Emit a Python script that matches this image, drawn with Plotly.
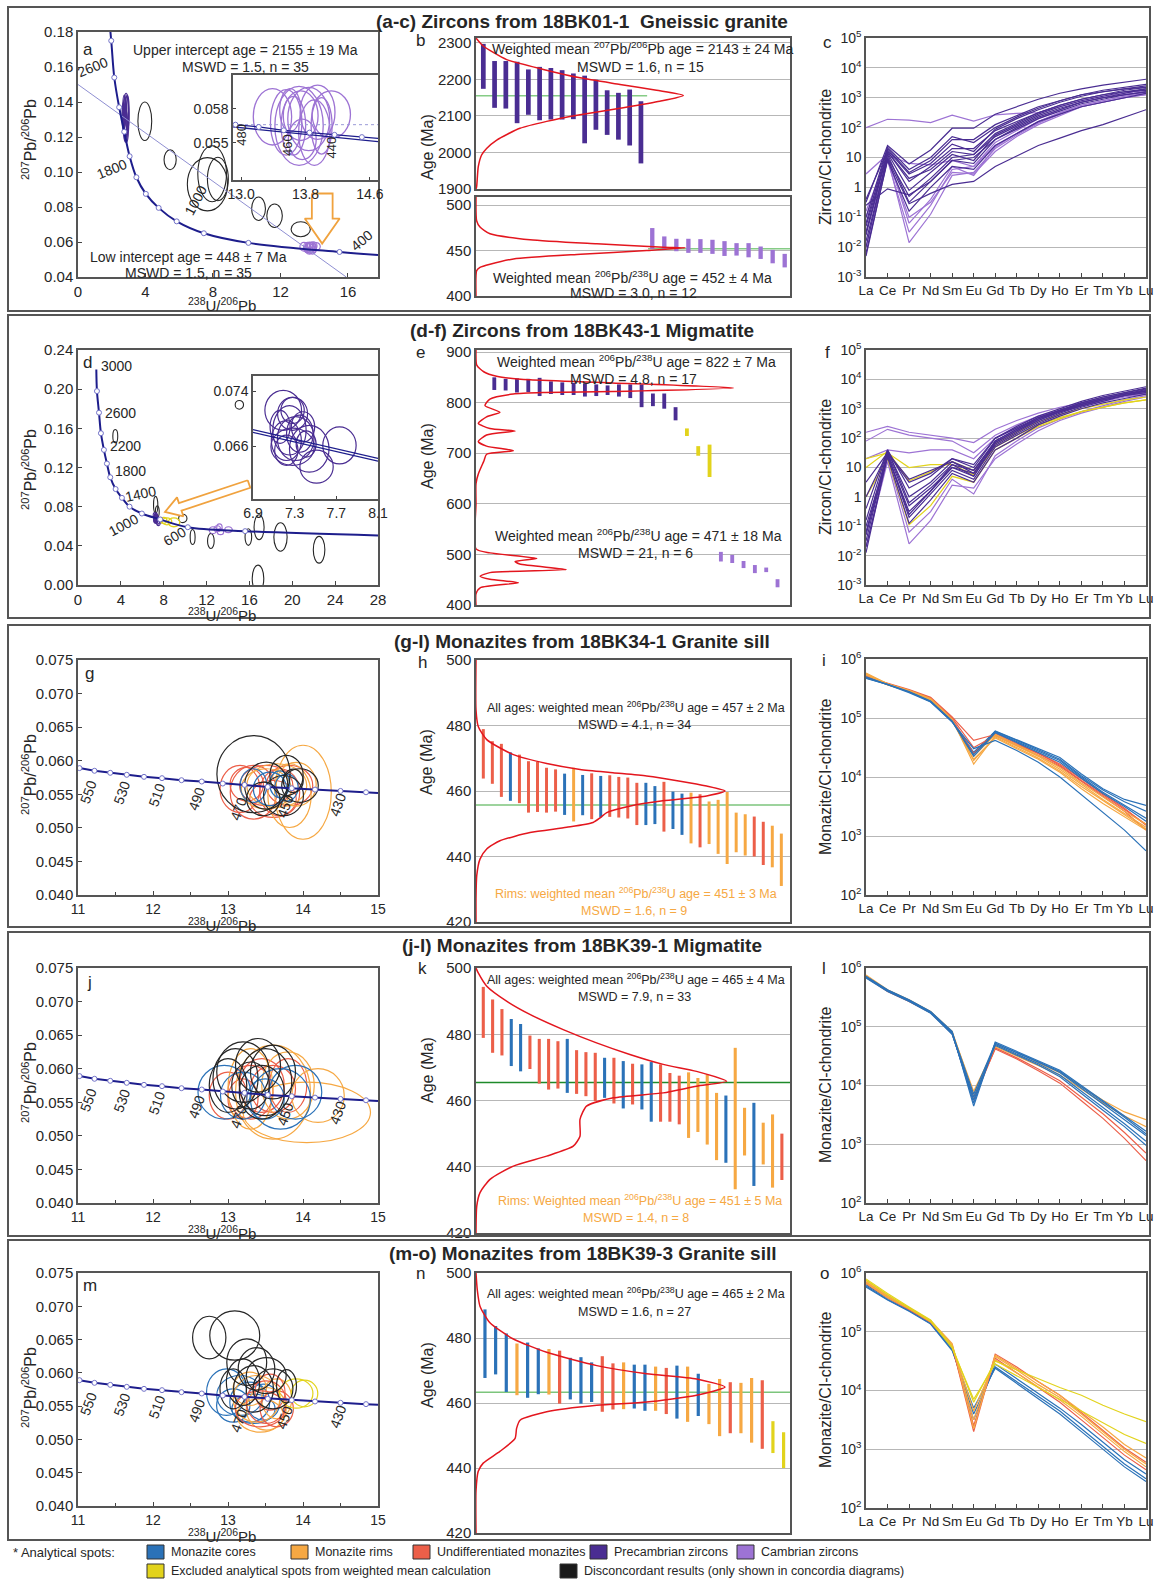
import plotly.graph_objects as go

W, H = 1157, 1581
FONT = "Arial, Liberation Sans, sans-serif"
TXT = "#262626"
FRAME = "#555555"
GRID = "#b7b7b7"

C_CORE = "#2b72b8"; C_RIM = "#f6a843"; C_UND = "#ec5f49"
C_PRE = "#4a2d92"; C_CAM = "#9d73d4"; C_EXC = "#e2d31c"; C_DIS = "#262626"
C_CONC = "#1d1d8c"; C_TICKPT = "#7272c8"; C_CURVE = "#e3161e"; C_ARROW = "#f0a23e"
COL = {"B": C_CORE, "O": C_RIM, "R": C_UND, "P": C_PRE, "C": C_CAM, "Y": C_EXC, "D": C_DIS}

# ======================= DATA =======================
ree = ["La", "Ce", "Pr", "Nd", "Sm", "Eu", "Gd", "Tb", "Dy", "Ho", "Er", "Tm", "Yb", "Lu"]

# --- concordia tick points (Tera-Wasserburg) ---
conc_a_age = [2600, 2400, 2200, 2000, 1800, 1600, 1400, 1200, 1000, 800, 600, 400]
conc_a_x = [1.97, 2.15, 2.44, 2.74, 3.06, 3.46, 4.02, 4.78, 5.85, 7.46, 10.1, 15.5]
conc_a_y = [0.175, 0.154, 0.137, 0.123, 0.109, 0.097, 0.0875, 0.0795, 0.0718, 0.065, 0.0595, 0.0543]
conc_a_end_x = [1.80, 17.78]
conc_a_end_y = [0.192, 0.0526]
discordia_a_x = [0.0, 15.9]
discordia_a_y = [0.150, 0.040]

conc_d_age = [2800, 2600, 2400, 2200, 2000, 1800, 1600, 1400, 1200, 1000, 800, 600, 400]
conc_d_x = [1.77, 1.96, 2.14, 2.42, 2.70, 3.01, 3.51, 4.10, 4.81, 5.96, 7.67, 10.25, 15.6]
conc_d_y = [0.198, 0.176, 0.155, 0.138, 0.124, 0.110, 0.098, 0.089, 0.080, 0.073, 0.067, 0.059, 0.055]
conc_d_end_x = [1.71, 28.0]
conc_d_end_y = [0.220, 0.0506]

conc_m_age = [560, 550, 540, 530, 520, 510, 500, 490, 480, 470, 460, 450, 440, 430, 420]
conc_m_x = [11.02, 11.22, 11.43, 11.65, 11.88, 12.12, 12.38, 12.65, 12.93, 13.22, 13.53, 13.85, 14.16, 14.50, 14.84]
conc_m_y = [0.0589, 0.0585, 0.0582, 0.0579, 0.0576, 0.0574, 0.0571, 0.0569, 0.0566, 0.0564, 0.0561, 0.0559, 0.0557, 0.0555, 0.0553]
conc_m_end_x = [11.0, 15.0]
conc_m_end_y = [0.0589, 0.0552]

ins_a_env_x = [12.9, 14.7]
ins_a_env_y = [0.0564, 0.0551]
ins_a_ref_y = [0.0566, 0.0566]
ins_d_x = [6.9, 8.1]
ins_d_y1 = [0.0684, 0.0642]
ins_d_y2 = [0.0680, 0.0638]

# --- error ellipses: (centre x, centre y, half-width x, half-width y) ---
a_pre = [(2.78, 0.131, 0.12, 0.011), (2.85, 0.133, 0.15, 0.012), (2.80, 0.128, 0.10, 0.010),
         (2.88, 0.130, 0.13, 0.013), (2.75, 0.135, 0.10, 0.009), (2.82, 0.126, 0.12, 0.009),
         (2.92, 0.134, 0.11, 0.010), (2.70, 0.132, 0.09, 0.008)]
a_dis = [(3.96, 0.129, 0.41, 0.011), (5.46, 0.107, 0.36, 0.0057), (7.67, 0.093, 1.19, 0.0152),
         (8.29, 0.096, 0.62, 0.0124), (7.95, 0.099, 0.85, 0.016), (10.70, 0.079, 0.41, 0.0067),
         (11.65, 0.075, 0.46, 0.0067), (13.2, 0.0673, 0.57, 0.0043)]
a_cam = [(13.39, 0.0573, 0.238, 0.0025), (13.56, 0.0568, 0.195, 0.0029), (13.74, 0.0574, 0.216, 0.0022),
         (13.65, 0.0565, 0.152, 0.0026), (13.84, 0.0571, 0.26, 0.0028), (13.95, 0.0577, 0.216, 0.0024),
         (14.12, 0.0575, 0.238, 0.0021), (13.61, 0.0579, 0.13, 0.0019), (13.76, 0.0553, 0.173, 0.0018),
         (13.91, 0.0559, 0.195, 0.0029), (13.72, 0.0565, 0.30, 0.0035), (14.0, 0.0565, 0.13, 0.0025)]

d_pre = [(7.19, 0.0712, 0.176, 0.0029), (7.28, 0.0707, 0.144, 0.0024), (7.25, 0.0683, 0.16, 0.0036),
         (7.35, 0.0678, 0.128, 0.0027), (7.22, 0.0668, 0.144, 0.0029), (7.31, 0.0671, 0.176, 0.0032),
         (7.38, 0.0688, 0.112, 0.0022), (7.16, 0.0688, 0.096, 0.0024), (7.28, 0.0659, 0.208, 0.0027),
         (7.41, 0.0663, 0.096, 0.0019), (7.51, 0.0630, 0.16, 0.0024), (7.73, 0.0661, 0.16, 0.0027),
         (7.28, 0.0712, 0.112, 0.0019), (7.22, 0.0654, 0.112, 0.0022), (7.44, 0.0656, 0.19, 0.0034)]
d_dis = [(3.48, 0.152, 0.23, 0.0068), (15.06, 0.184, 0.39, 0.0045), (7.25, 0.082, 0.2, 0.0085),
         (7.4, 0.075, 0.18, 0.006), (9.78, 0.068, 0.39, 0.0043), (10.7, 0.049, 0.23, 0.0077),
         (12.4, 0.045, 0.31, 0.0077), (15.9, 0.049, 0.31, 0.0085), (16.9, 0.059, 0.47, 0.0128),
         (18.9, 0.049, 0.62, 0.0145), (22.5, 0.036, 0.54, 0.0137), (16.8, 0.0066, 0.54, 0.0137)]
d_exc = [(8.3, 0.065, 0.45, 0.0035), (8.95, 0.064, 0.55, 0.0045), (8.0, 0.066, 0.3, 0.003)]
d_cam = [(12.6, 0.056, 0.35, 0.0035), (13.0, 0.0575, 0.3, 0.003), (13.3, 0.0545, 0.3, 0.003),
         (13.2, 0.059, 0.25, 0.0035), (14.05, 0.0565, 0.35, 0.003)]

g_dis = [(13.34, 0.0580, 0.488, 0.00575), (13.51, 0.0563, 0.288, 0.0035), (13.78, 0.0578, 0.222, 0.003),
         (13.96, 0.0563, 0.244, 0.0025), (13.74, 0.0548, 0.266, 0.003), (13.47, 0.0543, 0.222, 0.0025),
         (13.87, 0.0570, 0.133, 0.00175)]
g_rim = [(14.0, 0.0553, 0.377, 0.007), (13.82, 0.0548, 0.288, 0.00475), (13.65, 0.0563, 0.40, 0.00325),
         (13.51, 0.0558, 0.333, 0.003), (13.91, 0.0565, 0.266, 0.00325)]
g_und = [(13.16, 0.0558, 0.266, 0.0035), (13.34, 0.0553, 0.31, 0.004), (13.51, 0.0563, 0.355, 0.003),
         (13.69, 0.0553, 0.266, 0.0035), (13.82, 0.0563, 0.31, 0.003), (13.25, 0.0565, 0.222, 0.0025),
         (13.60, 0.0543, 0.31, 0.00275)]
g_core = [(13.34, 0.0563, 0.177, 0.0025), (13.69, 0.0565, 0.133, 0.002), (13.56, 0.0558, 0.222, 0.0025),
          (13.78, 0.056, 0.155, 0.002)]

j_dis = [(13.2, 0.0595, 0.35, 0.0045), (13.4, 0.0605, 0.3, 0.004), (13.1, 0.0585, 0.3, 0.0045),
         (13.5, 0.058, 0.35, 0.005), (13.3, 0.0575, 0.25, 0.0035), (13.6, 0.0595, 0.3, 0.004),
         (13.0, 0.0575, 0.25, 0.004), (13.45, 0.0565, 0.3, 0.004)]
j_core = [(12.95, 0.0565, 0.35, 0.004), (13.2, 0.056, 0.3, 0.0035), (13.7, 0.0555, 0.4, 0.0045),
          (13.9, 0.0565, 0.35, 0.004), (13.5, 0.0555, 0.25, 0.003)]
j_und = [(13.0, 0.056, 0.25, 0.0035), (13.3, 0.0565, 0.3, 0.004), (13.6, 0.057, 0.3, 0.0035),
         (13.2, 0.0555, 0.2, 0.003), (13.45, 0.0575, 0.3, 0.004), (13.8, 0.0575, 0.25, 0.004)]
j_rim = [(14.05, 0.0535, 0.85, 0.0045), (13.6, 0.0565, 0.5, 0.007), (13.8, 0.0575, 0.35, 0.005),
         (13.3, 0.057, 0.3, 0.006), (14.2, 0.056, 0.35, 0.004)]

m_dis = [(12.75, 0.0653, 0.222, 0.0032), (13.09, 0.0656, 0.333, 0.0037), (13.25, 0.0616, 0.266, 0.0035),
         (13.38, 0.0606, 0.244, 0.0032), (13.51, 0.0596, 0.266, 0.0027), (13.2, 0.0586, 0.222, 0.0035),
         (13.6, 0.0576, 0.266, 0.003), (13.34, 0.0576, 0.266, 0.0035), (13.07, 0.0576, 0.177, 0.003),
         (13.78, 0.058, 0.133, 0.0025)]
m_core = [(12.98, 0.0571, 0.266, 0.0035), (13.16, 0.0566, 0.31, 0.003), (13.29, 0.0556, 0.266, 0.003),
          (13.47, 0.0556, 0.222, 0.0027), (13.07, 0.0551, 0.222, 0.0025), (13.34, 0.0546, 0.288, 0.0022)]
m_rim = [(13.38, 0.0561, 0.31, 0.0035), (13.51, 0.0546, 0.266, 0.0032), (13.65, 0.0561, 0.2, 0.003),
         (13.43, 0.0536, 0.31, 0.0025), (13.29, 0.0576, 0.222, 0.0025)]
m_und = [(13.51, 0.0556, 0.266, 0.0032), (13.65, 0.0546, 0.222, 0.0027), (13.43, 0.0546, 0.333, 0.0027),
         (13.56, 0.0571, 0.2, 0.0027)]
m_exc = [(13.91, 0.0569, 0.222, 0.0022), (14.02, 0.0569, 0.177, 0.002)]

# --- hollow arrows (outline vertices) ---
arrow_a_x = [13.86, 15.09, 15.09, 15.51, 14.47, 13.44, 13.86, 13.86]
arrow_a_y = [0.0877, 0.0877, 0.0734, 0.0734, 0.0591, 0.0734, 0.0734, 0.0877]
arrow_d_x = [15.84, 9.42, 9.24, 8.12, 9.84, 9.66, 16.08, 15.84]
arrow_d_y = [0.1070, 0.0836, 0.0895, 0.0746, 0.0701, 0.0759, 0.0993, 0.1070]

# --- age bars (2-sigma upper / lower ages, Ma) ---
bu_hi = [2297, 2250, 2250, 2248, 2227, 2234, 2231, 2225, 2216, 2210, 2199, 2170, 2163, 2172, 2140]
bu_lo = [2174, 2122, 2120, 2080, 2103, 2088, 2090, 2090, 2091, 2025, 2062, 2048, 2035, 2019, 1970]
bl_hi = [474.8, 465.6, 463.0, 463.0, 462.6, 461.9, 460.4, 458.2, 458.2, 454.5, 450.8, 446.4]
bl_lo = [451.9, 450.8, 449.3, 447.5, 447.5, 446.4, 444.1, 444.5, 442.6, 440.8, 436.0, 431.5]
e_hi = [850, 847, 848, 847, 849, 842, 840, 839, 838, 836, 834, 836, 836, 836, 818, 818, 791,
        749, 714, 717, 505, 499, 487, 479, 474, 451]
e_lo = [825, 824, 820, 821, 813, 817, 815, 815, 812, 813, 815, 812, 809, 791, 793, 788, 765,
        734, 695, 653, 486, 483, 473, 463, 465, 435]
e_kind = list("PPPPPPPPPPPPPPPPPYYYCCCCCC")
h_hi = [478.9, 475.2, 474.4, 471.8, 471.1, 469.1, 468.9, 467.1, 466.6, 465.3, 467.1, 464.9, 465.4, 464.6,
        464.8, 464.3, 464.1, 462.5, 462.5, 461.5, 462.8, 459.8, 459.2, 459.5, 459.0, 456.8, 457.3, 459.7,
        453.4, 452.9, 452.2, 450.6, 449.4, 447.0]
h_lo = [463.8, 462.2, 458.2, 457.0, 456.3, 453.4, 453.6, 453.4, 453.7, 452.7, 450.7, 452.6, 451.4, 451.9,
        452.1, 451.9, 451.6, 449.6, 449.6, 449.9, 447.6, 448.4, 446.6, 444.0, 442.8, 443.8, 440.8, 437.7,
        441.3, 440.3, 440.0, 437.4, 436.7, 431.0]
h_kind = list("RRRBRRRRRBOBRBRRRRBBRBBOROOOOORROO")
k_hi = [494.3, 490.5, 487.6, 484.6, 483.1, 479.6, 478.6, 478.6, 477.9, 478.6, 475.2, 474.6, 474.4, 472.9,
        472.9, 471.9, 471.1, 470.9, 471.6, 470.9, 468.3, 467.5, 468.5, 466.8, 467.8, 462.3, 461.5, 475.9,
        457.8, 459.3, 453.3, 455.8, 450.0]
k_lo = [478.9, 474.4, 473.6, 470.4, 468.8, 469.5, 465.1, 463.3, 463.6, 462.3, 462.0, 461.3, 459.8, 460.8,
        459.1, 457.6, 458.8, 457.3, 453.6, 453.6, 453.6, 452.8, 448.7, 450.5, 446.7, 442.0, 441.2, 433.2,
        443.4, 434.2, 440.7, 433.7, 436.0]
k_kind = list("RRRBBRRRRBRRRBRBRBBRRROOOOBOOBOOR")
n_hi = [488.8, 483.7, 481.4, 478.3, 478.6, 476.8, 476.6, 476.1, 473.9, 474.1, 472.5, 474.4, 472.2, 472.5,
        471.8, 471.8, 471.2, 470.8, 471.5, 471.2, 469.0, 465.9, 467.4, 466.4, 466.2, 467.7, 467.0, 454.4, 451.0]
n_lo = [467.7, 468.8, 463.4, 462.4, 461.6, 462.7, 462.6, 459.8, 461.1, 459.8, 460.3, 457.3, 458.0, 458.1,
        458.3, 457.6, 457.6, 456.6, 455.2, 454.2, 456.0, 453.5, 449.8, 450.7, 450.7, 447.8, 445.9, 444.6, 440.0]
n_kind = list("BBBOBBORBBBRROBBORBOBOOROORYY")

# weighted-mean lines (Ma)
bu_mean, bl_mean, h_mean, k_mean, n_mean = 2155, 452, 455.7, 465.4, 463.3

# --- probability density curves (age, relative density) ---
bu_c_age = [2313, 2291, 2254, 2227, 2204, 2186, 2170, 2156, 2140, 2121, 2103, 2085, 2066, 2034, 2011, 1993, 1961, 1906, 1900]
bu_c_den = [0.0, 0.035, 0.148, 0.325, 0.502, 0.695, 0.871, 1.0, 0.887, 0.695, 0.502, 0.341, 0.212, 0.1, 0.051, 0.027, 0.011, 0.003, 0.0]
bl_c_age = [509, 483, 476, 468.5, 462, 457.5, 453.8, 453, 450, 446, 440.8, 435, 431.5, 427.8, 400]
bl_c_den = [0.0, 0.003, 0.019, 0.067, 0.258, 0.577, 0.896, 1.0, 0.816, 0.5, 0.179, 0.067, 0.019, 0.003, 0.0]
e_c_age = [904, 874, 861, 852, 845, 839, 829, 822, 820, 817, 807, 794, 781, 772, 759, 749, 744, 736, 723, 714,
           705, 698, 685, 659, 640, 600, 511, 503, 492, 486, 481, 470, 464, 457, 451, 444, 434, 422, 400]
e_c_den = [0.0, 0.003, 0.03, 0.08, 0.21, 0.53, 1.0, 0.53, 0.27, 0.145, 0.054, 0.035, 0.093, 0.041, 0.009, 0.054,
           0.152, 0.041, 0.009, 0.041, 0.145, 0.041, 0.031, 0.009, 0.0, 0.0, 0.0, 0.054, 0.236, 0.152, 0.17, 0.352,
           0.054, 0.016, 0.054, 0.165, 0.016, 0.0, 0.0]
h_c_age = [500, 484.8, 479.7, 475.7, 471.1, 468.4, 466.6, 465.6, 464.6, 463.0, 461.5, 460.0, 458.5, 457.0, 455.4,
           453.4, 451.9, 450.4, 448.9, 447.3, 444.8, 442.3, 439.2, 434.2, 427.1, 420]
h_c_den = [0.0, 0.0, 0.009, 0.043, 0.15, 0.284, 0.418, 0.55, 0.685, 0.82, 0.926, 1.0, 0.926, 0.75, 0.62, 0.525,
           0.5, 0.47, 0.364, 0.217, 0.096, 0.043, 0.016, 0.003, 0.0, 0.0]
k_c_age = [500, 498.5, 494.5, 490, 486, 481.4, 477.4, 473.9, 470.9, 468.8, 465.8, 464.3, 462.3, 460.8, 458.3,
           454.3, 449.2, 446.2, 443.2, 440.2, 436.2, 432.2, 428.1, 420]
k_c_den = [0.0, 0.009, 0.043, 0.122, 0.215, 0.348, 0.481, 0.614, 0.747, 0.88, 1.0, 0.88, 0.747, 0.548, 0.441,
           0.415, 0.415, 0.388, 0.282, 0.149, 0.056, 0.016, 0.003, 0.0]
n_c_age = [500, 494.9, 489.8, 484.7, 479.7, 475.6, 471.5, 469.0, 467.4, 464.9, 462.4, 460.3, 459.3, 457.3,
           454.7, 452.2, 449.1, 445.1, 441.5, 439.0, 432.9, 420]
n_c_den = [0.0, 0.005, 0.016, 0.056, 0.15, 0.284, 0.485, 0.685, 0.886, 1.0, 0.886, 0.685, 0.485, 0.284,
           0.177, 0.163, 0.157, 0.096, 0.029, 0.009, 0.0, 0.0]

# --- chondrite-normalised REE patterns (log10 of value) ---
c_pre = [[-0.5, 1.4, 0.78, 1.25, 1.98, 1.98, 2.45, 2.7, 2.95, 3.15, 3.3, 3.42, 3.52, 3.62],
         [-2.3, 0.95, -0.55, -0.2, 0.1, 0.2, 0.7, 1.05, 1.4, 1.65, 1.9, 2.1, 2.35, 2.6],
         [-1.2, 1.3, 0.5, 0.9, 1.6, 1.6, 2.1, 2.4, 2.7, 2.9, 3.1, 3.25, 3.35, 3.45],
         [-1.5, 1.2, 0.2, 0.7, 1.3, 1.3, 1.9, 2.2, 2.5, 2.75, 2.95, 3.1, 3.25, 3.35],
         [-1.8, 1.0, -0.3, 0.3, 1.0, 1.1, 1.7, 2.05, 2.4, 2.65, 2.85, 3.0, 3.15, 3.3],
         [-2.0, 1.1, -0.5, 0.2, 0.9, 0.8, 1.6, 1.95, 2.3, 2.55, 2.8, 2.95, 3.1, 3.2],
         [-0.4, 1.25, 0.45, 0.8, 1.45, 1.2, 1.95, 2.3, 2.6, 2.85, 3.05, 3.2, 3.3, 3.4],
         [-1.0, 1.35, 0.6, 1.0, 1.7, 1.5, 2.0, 2.35, 2.65, 2.9, 3.1, 3.2, 3.3, 3.35],
         [-0.6, -0.05, -0.25, 0.2, 0.9, 1.0, 1.6, 2.0, 2.35, 2.6, 2.85, 3.0, 3.1, 3.2],
         [-1.3, 1.15, -0.1, 0.5, 1.1, 0.9, 1.75, 2.1, 2.45, 2.7, 2.9, 3.05, 3.2, 3.25],
         [-2.2, 0.9, -0.8, 0.0, 0.7, 0.6, 1.4, 1.8, 2.2, 2.45, 2.7, 2.85, 3.0, 3.15],
         [-1.6, 1.2, 0.3, 0.6, 1.2, 1.1, 1.8, 2.15, 2.5, 2.75, 2.95, 3.1, 3.2, 3.3]]
c_cam = [[2.0, 2.28, 2.25, 2.17, 2.42, 2.22, 2.43, 2.48, 2.5, 2.7, 2.9, 3.05, 3.15, 3.25],
         [0.45, 1.1, 0.8, 0.75, 0.9, 0.7, 1.4, 1.8, 2.2, 2.5, 2.75, 2.9, 3.05, 3.15],
         [-1.0, 1.0, -1.85, -0.9, 0.4, 0.5, 1.3, 1.75, 2.15, 2.45, 2.7, 2.85, 3.0, 3.1],
         [-1.5, 0.9, -1.5, -0.6, 0.6, 0.7, 1.5, 1.9, 2.3, 2.6, 2.85, 3.0, 3.1, 3.2],
         [-0.8, 1.05, -1.2, -0.4, 0.7, 0.4, 1.35, 1.8, 2.2, 2.5, 2.75, 2.9, 3.05, 3.15],
         [-2.0, 0.95, -1.0, -0.5, 0.5, 0.45, 1.2, 1.7, 2.1, 2.4, 2.7, 2.85, 3.0, 3.1]]
f_pre = [[-1.9, 1.45, -0.7, 0.1, 0.9, 0.6, 1.7, 2.1, 2.5, 2.8, 3.05, 3.25, 3.45, 3.6],
         [-1.5, 1.5, -0.3, 0.3, 1.0, 0.7, 1.8, 2.2, 2.6, 2.9, 3.15, 3.35, 3.5, 3.65],
         [-1.2, 1.55, 0.0, 0.5, 1.2, 0.9, 1.9, 2.3, 2.7, 2.95, 3.2, 3.4, 3.55, 3.7],
         [-0.8, 1.6, 0.3, 0.7, 1.3, 1.0, 2.0, 2.4, 2.75, 3.0, 3.25, 3.45, 3.6, 3.75],
         [-1.0, 1.4, -0.5, 0.2, 1.0, 0.8, 1.75, 2.15, 2.55, 2.85, 3.1, 3.3, 3.45, 3.55],
         [-1.7, 1.35, -0.9, -0.1, 0.8, 0.5, 1.6, 2.0, 2.45, 2.75, 3.0, 3.2, 3.35, 3.5],
         [0.0, 1.5, 0.5, 0.8, 1.3, 1.1, 2.0, 2.35, 2.7, 2.95, 3.15, 3.35, 3.5, 3.6],
         [-0.4, 1.6, -0.2, 0.4, 1.1, 0.9, 1.85, 2.25, 2.6, 2.9, 3.1, 3.3, 3.45, 3.55],
         [-1.3, 1.45, -0.6, 0.2, 1.1, 0.7, 1.85, 2.25, 2.65, 2.95, 3.2, 3.4, 3.55, 3.68],
         [0.5, 1.5, 0.6, 0.9, 1.2, 0.8, 1.9, 2.3, 2.65, 2.9, 3.15, 3.35, 3.5, 3.62]]
f_cam = [[2.2, 2.4, 2.2, 2.1, 2.0, 1.85, 2.3, 2.6, 2.85, 3.05, 3.2, 3.35, 3.5, 3.6],
         [1.9, 2.3, 2.1, 2.0, 1.9, 1.5, 2.1, 2.45, 2.75, 2.95, 3.15, 3.3, 3.42, 3.5],
         [1.3, 1.6, 1.5, 1.6, 1.6, 1.3, 2.0, 2.35, 2.65, 2.9, 3.1, 3.25, 3.4, 3.5],
         [-1.7, 1.2, -1.6, -0.8, 0.4, 0.3, 1.3, 1.8, 2.25, 2.6, 2.85, 3.05, 3.25, 3.4],
         [-1.2, 1.3, -1.2, -0.5, 0.6, 0.1, 1.4, 1.9, 2.35, 2.65, 2.9, 3.1, 3.3, 3.45]]
f_exc = [[1.0, 1.55, 0.55, 0.85, 1.2, 0.9, 1.8, 2.2, 2.55, 2.8, 3.0, 3.15, 3.3, 3.4],
         [0.0, 1.3, -0.95, -0.3, 0.7, 0.5, 1.6, 2.0, 2.4, 2.65, 2.9, 3.05, 3.2, 3.3],
         [1.3, 1.5, 1.0, 1.1, 1.1, 0.75, 1.7, 2.1, 2.45, 2.7, 2.9, 3.05, 3.2, 3.3]]
i_core = [[5.68, 5.58, 5.45, 5.28, 4.95, 4.40, 4.78, 4.63, 4.48, 4.33, 4.05, 3.80, 3.62, 3.52],
          [5.68, 5.57, 5.45, 5.28, 4.94, 4.42, 4.77, 4.62, 4.46, 4.30, 4.02, 3.78, 3.58, 3.42],
          [5.70, 5.56, 5.43, 5.27, 4.93, 4.48, 4.62, 4.45, 4.25, 4.00, 3.70, 3.40, 3.10, 2.75],
          [5.69, 5.57, 5.45, 5.29, 4.95, 4.38, 4.76, 4.60, 4.44, 4.28, 4.00, 3.74, 3.52, 3.30],
          [5.67, 5.57, 5.44, 5.28, 4.94, 4.35, 4.75, 4.58, 4.42, 4.25, 3.98, 3.72, 3.50, 3.25]]
i_und = [[5.70, 5.59, 5.48, 5.35, 5.02, 4.62, 4.72, 4.55, 4.40, 4.22, 3.97, 3.72, 3.47, 3.18],
         [5.69, 5.58, 5.47, 5.34, 5.00, 4.50, 4.70, 4.53, 4.37, 4.18, 3.93, 3.68, 3.42, 3.10],
         [5.72, 5.57, 5.46, 5.32, 4.98, 4.40, 4.74, 4.57, 4.40, 4.20, 3.94, 3.70, 3.45, 3.20]]
i_rim = [[5.76, 5.58, 5.47, 5.33, 4.98, 4.22, 4.70, 4.52, 4.35, 4.13, 3.87, 3.62, 3.38, 3.15],
         [5.74, 5.57, 5.46, 5.32, 4.97, 4.28, 4.68, 4.50, 4.32, 4.10, 3.84, 3.60, 3.36, 3.12],
         [5.75, 5.58, 5.46, 5.31, 4.96, 4.35, 4.72, 4.55, 4.37, 4.16, 3.90, 3.66, 3.42, 3.20],
         [5.73, 5.56, 5.45, 5.30, 4.95, 4.30, 4.66, 4.48, 4.30, 4.08, 3.80, 3.55, 3.32, 3.10]]
l_core = [[5.85, 5.62, 5.45, 5.25, 4.90, 3.70, 4.72, 4.56, 4.40, 4.22, 3.95, 3.68, 3.42, 3.15],
          [5.84, 5.61, 5.44, 5.24, 4.88, 3.75, 4.70, 4.54, 4.37, 4.18, 3.90, 3.62, 3.35, 3.05],
          [5.86, 5.63, 5.46, 5.26, 4.92, 3.65, 4.74, 4.58, 4.43, 4.26, 4.00, 3.74, 3.48, 3.22],
          [5.83, 5.60, 5.43, 5.23, 4.87, 3.80, 4.68, 4.52, 4.35, 4.15, 3.86, 3.58, 3.30, 2.98],
          [5.85, 5.62, 5.45, 5.25, 4.90, 3.85, 4.72, 4.56, 4.41, 4.24, 3.98, 3.72, 3.46, 3.18]]
l_rim = [[5.88, 5.63, 5.46, 5.26, 4.92, 3.85, 4.68, 4.52, 4.38, 4.22, 3.98, 3.75, 3.55, 3.42],
         [5.87, 5.62, 5.45, 5.25, 4.90, 3.90, 4.66, 4.50, 4.35, 4.18, 3.94, 3.70, 3.48, 3.30]]
l_und = [[5.84, 5.60, 5.43, 5.24, 4.88, 3.80, 4.62, 4.45, 4.25, 4.04, 3.74, 3.44, 3.10, 2.72],
         [5.85, 5.61, 5.44, 5.24, 4.89, 3.75, 4.64, 4.47, 4.28, 4.08, 3.80, 3.52, 3.20, 2.85]]
o_core = [[5.78, 5.55, 5.36, 5.14, 4.70, 3.60, 4.40, 4.15, 3.90, 3.65, 3.35, 3.05, 2.75, 2.50],
          [5.80, 5.57, 5.38, 5.16, 4.72, 3.50, 4.45, 4.20, 3.95, 3.70, 3.42, 3.12, 2.82, 2.58],
          [5.76, 5.54, 5.35, 5.13, 4.68, 3.70, 4.38, 4.12, 3.86, 3.60, 3.30, 3.00, 2.70, 2.45]]
o_rim = [[5.85, 5.60, 5.40, 5.18, 4.78, 3.50, 4.58, 4.35, 4.10, 3.88, 3.60, 3.30, 3.00, 2.75],
         [5.87, 5.62, 5.41, 5.19, 4.80, 3.35, 4.60, 4.38, 4.15, 3.92, 3.65, 3.38, 3.08, 2.85],
         [5.83, 5.58, 5.39, 5.17, 4.76, 3.65, 4.52, 4.30, 4.06, 3.84, 3.56, 3.26, 2.96, 2.70]]
o_und = [[5.82, 5.58, 5.38, 5.16, 4.75, 3.40, 4.55, 4.30, 4.05, 3.80, 3.50, 3.20, 2.90, 2.65],
         [5.84, 5.60, 5.40, 5.17, 4.77, 3.30, 4.62, 4.40, 4.15, 3.92, 3.62, 3.32, 3.02, 2.78]]
o_exc = [[5.90, 5.65, 5.42, 5.20, 4.75, 3.80, 4.50, 4.35, 4.20, 4.05, 3.92, 3.75, 3.60, 3.47],
         [5.88, 5.63, 5.40, 5.18, 4.72, 3.85, 4.45, 4.25, 4.05, 3.85, 3.65, 3.45, 3.25, 3.10]]

# ======================= LAYOUT =======================
# panel boxes in pixels: (left, right, top, bottom)
PANELS = {
    1: (78, 378, 32, 277), 2: (233, 378, 75, 180), 3: (476, 790, 38, 189), 4: (476, 790, 197, 296),
    5: (866, 1146, 38, 277), 6: (78, 378, 350, 585), 7: (253, 378, 376, 499), 8: (476, 790, 350, 605),
    9: (866, 1146, 350, 585), 10: (78, 378, 660, 895), 11: (476, 790, 660, 922), 12: (866, 1146, 659, 895),
    13: (78, 378, 968, 1203), 14: (476, 790, 968, 1233), 15: (866, 1146, 968, 1203),
    16: (78, 378, 1273, 1506), 17: (476, 790, 1273, 1533), 18: (866, 1146, 1273, 1508),
}

fig = go.Figure()
L = dict(width=W, height=H, margin=dict(l=0, r=0, t=0, b=0), paper_bgcolor="white", plot_bgcolor="white",
         showlegend=False, barmode="overlay", font=dict(family=FONT, color=TXT, size=14))
shapes, anns = [], []


def xn(n): return "xaxis" if n == 1 else f"xaxis{n}"
def yn(n): return "yaxis" if n == 1 else f"yaxis{n}"
def xr(n): return "x" if n == 1 else f"x{n}"
def yr(n): return "y" if n == 1 else f"y{n}"


def frame(**kw):
    d = dict(showline=True, mirror=True, linecolor=FRAME, linewidth=1.5, zeroline=False, showgrid=False,
             ticks="", tickfont=dict(size=15, color=TXT, family=FONT), automargin=False, fixedrange=True)
    d.update(kw)
    return d


def set_axes(n, xopt, yopt):
    l, r, t, b = PANELS[n]
    L[xn(n)] = frame(domain=[l / W, r / W], anchor=yr(n), **xopt)
    L[yn(n)] = frame(domain=[1 - b / H, 1 - t / H], anchor=xr(n), **yopt)


small_tf = dict(size=14, color=TXT, family=FONT)
ree_tf = dict(size=13.5, color=TXT, family=FONT)
ree_ytf = dict(size=14, color=TXT, family=FONT)

# concordia panels
set_axes(1, dict(range=[0, 17.78], tickvals=[0, 4, 8, 12, 16], ticks="inside", ticklen=4),
         dict(range=[0.04, 0.18], tickvals=[0.04, 0.06, 0.08, 0.10, 0.12, 0.14, 0.16, 0.18], tickformat=".2f",
              ticks="inside", ticklen=4))
set_axes(2, dict(range=[12.9, 14.7], tickvals=[13.0, 13.8, 14.6], ticktext=["13.0", "13.8", "14.6"],
                 tickfont=small_tf, ticks="inside", ticklen=3),
         dict(range=[0.0517, 0.061], tickvals=[0.055, 0.058], tickformat=".3f", tickfont=small_tf,
              ticks="inside", ticklen=3))
set_axes(6, dict(range=[0, 28], tickvals=list(range(0, 29, 4)), ticks="inside", ticklen=4),
         dict(range=[0, 0.24], tickvals=[0, 0.04, 0.08, 0.12, 0.16, 0.20, 0.24], tickformat=".2f",
              ticks="inside", ticklen=4))
set_axes(7, dict(range=[6.9, 8.1], tickvals=[6.9, 7.3, 7.7, 8.1], tickfont=small_tf, ticks="inside", ticklen=3),
         dict(range=[0.0583, 0.0762], tickvals=[0.066, 0.074], tickformat=".3f", tickfont=small_tf,
              ticks="inside", ticklen=3))
for n in (10, 13, 16):
    set_axes(n, dict(range=[11, 15], tickvals=[11, 12, 13, 14, 15], ticks="inside", ticklen=4, tickfont=small_tf,
                     minor=dict(ticks="inside", ticklen=3, dtick=0.5, tick0=11)),
             dict(range=[0.04, 0.075], tickvals=[0.040, 0.045, 0.050, 0.055, 0.060, 0.065, 0.070, 0.075],
                  tickformat=".3f", ticks="inside", ticklen=4))

# age panels
age_x = {3: [0.35, 28.24], 4: [-13.64, 12.44], 8: [-0.615, 27.1], 11: [0.19, 34.96], 14: [0.22, 33.87],
         17: [0.16, 29.6]}
age_y = {3: ([1900, 2313], [1900, 2000, 2100, 2200, 2300]), 4: ([400, 509], [400, 450, 500]),
         8: ([400, 904], [400, 500, 600, 700, 800, 900]), 11: ([420, 500], [420, 440, 460, 480, 500]),
         14: ([420, 500], [420, 440, 460, 480, 500]), 17: ([420, 500], [420, 440, 460, 480, 500])}
for n in age_x:
    set_axes(n, dict(range=age_x[n], showticklabels=False, layer="below traces"),
             dict(range=age_y[n][0], tickvals=age_y[n][1], showgrid=True, gridcolor=GRID, gridwidth=1,
                  layer="below traces"))

# curve overlay axes
OVER = {19: (3, 1.515), 20: (4, 1.5), 21: (8, 1.22), 22: (11, 1.261), 23: (14, 1.253), 24: (17, 1.261)}
for k, (n, rmax) in OVER.items():
    L[xn(k)] = dict(overlaying=xr(n), anchor=yr(n), range=[0, rmax], visible=False, fixedrange=True)

# REE panels
sup = {-3: "10<sup>-3</sup>", -2: "10<sup>-2</sup>", -1: "10<sup>-1</sup>", 0: "1", 1: "10",
       2: "10<sup>2</sup>", 3: "10<sup>3</sup>", 4: "10<sup>4</sup>", 5: "10<sup>5</sup>", 6: "10<sup>6</sup>"}
for n, (lo, hi) in {5: (-3, 5), 9: (-3, 5), 12: (2, 6), 15: (2, 6), 18: (2, 6)}.items():
    set_axes(n, dict(type="category", categoryorder="array", categoryarray=ree, range=[0, 13],
                     ticks="inside", ticklen=4, tickfont=ree_tf),
             dict(type="log", range=[lo, hi], tickvals=[10 ** p for p in range(lo, hi + 1)],
                  ticktext=[sup[p] for p in range(lo, hi + 1)], showgrid=True, gridcolor=GRID,
                  tickfont=ree_ytf))


# ======================= TRACES =======================
def line_tr(n, x, y, color, width=1.0, dash=None, shape="linear", xk=None):
    fig.add_trace(go.Scatter(x=x, y=y, mode="lines", line=dict(color=color, width=width, dash=dash, shape=shape),
                             xaxis=xr(xk or n), yaxis=yr(n), hoverinfo="skip"))


def ticks_tr(n, x, y):
    fig.add_trace(go.Scatter(x=x, y=y, mode="markers", xaxis=xr(n), yaxis=yr(n), hoverinfo="skip",
                             marker=dict(size=5, color="white", line=dict(color=C_TICKPT, width=1))))


def ellipses(n, lst, color, width=1.1):
    for (cx, cy, rx, ry) in lst:
        shapes.append(dict(type="circle", xref=xr(n), yref=yr(n), x0=cx - rx, x1=cx + rx, y0=cy - ry, y1=cy + ry,
                           line=dict(color=color, width=width), layer="below"))


def arrow(n, x, y):
    fig.add_trace(go.Scatter(x=x, y=y, mode="lines", fill="toself", fillcolor="white",
                             line=dict(color=C_ARROW, width=1.8), xaxis=xr(n), yaxis=yr(n), hoverinfo="skip"))


# ---- panel a ----
line_tr(1, discordia_a_x, discordia_a_y, "#8f8fd2", 1.0)
line_tr(1, [conc_a_end_x[0]] + conc_a_x + [conc_a_end_x[1]], [conc_a_end_y[0]] + conc_a_y + [conc_a_end_y[1]],
        C_CONC, 2.0, shape="spline")
ticks_tr(1, conc_a_x, conc_a_y)
ellipses(1, a_dis, C_DIS, 1.1)
ellipses(1, a_pre, C_PRE, 1.2)
ellipses(1, a_cam, C_CAM, 1.2)
arrow(1, arrow_a_x, arrow_a_y)
# inset a
line_tr(2, ins_a_env_x, ins_a_ref_y, "#9a9ad8", 1.0, dash="dot")
line_tr(2, ins_a_env_x, ins_a_env_y, C_CONC, 1.3)
line_tr(2, [conc_m_end_x[0]] + conc_m_x + [conc_m_end_x[1]], [conc_m_end_y[0]] + conc_m_y + [conc_m_end_y[1]],
        C_CONC, 1.3)
ticks_tr(2, conc_m_x, conc_m_y)
ellipses(2, a_cam, C_CAM, 1.3)

# ---- panel d ----
line_tr(6, [conc_d_end_x[0]] + conc_d_x + [conc_d_end_x[1]], [conc_d_end_y[0]] + conc_d_y + [conc_d_end_y[1]],
        C_CONC, 2.0, shape="spline")
ticks_tr(6, conc_d_x, conc_d_y)
ellipses(6, d_dis, C_DIS, 1.1)
ellipses(6, d_pre, C_PRE, 1.1)
ellipses(6, d_exc, C_EXC, 1.3)
ellipses(6, d_cam, C_CAM, 1.2)
arrow(6, arrow_d_x, arrow_d_y)
# inset d
line_tr(7, ins_d_x, ins_d_y1, C_CONC, 1.3)
line_tr(7, ins_d_x, ins_d_y2, C_CONC, 1.3)
ellipses(7, d_pre, C_PRE, 1.2)

# ---- monazite concordia panels ----
for n, groups in ((10, [(g_und, C_UND), (g_rim, C_RIM), (g_core, C_CORE), (g_dis, C_DIS)]),
                  (13, [(j_und, C_UND), (j_rim, C_RIM), (j_core, C_CORE), (j_dis, C_DIS)]),
                  (16, [(m_core, C_CORE), (m_rim, C_RIM), (m_und, C_UND), (m_exc, C_EXC), (m_dis, C_DIS)])):
    line_tr(n, [conc_m_end_x[0]] + conc_m_x + [conc_m_end_x[1]], [conc_m_end_y[0]] + conc_m_y + [conc_m_end_y[1]],
            C_CONC, 2.0)
    ticks_tr(n, conc_m_x, conc_m_y)
    for lst, col in groups:
        ellipses(n, lst, col, 1.2)


# ---- age bars + density curves ----
def bars(n, hi, lo, kinds, width):
    fig.add_trace(go.Bar(x=list(range(1, len(hi) + 1)), y=[a - b for a, b in zip(hi, lo)], base=lo, width=width,
                         marker=dict(color=[COL[k] for k in kinds], line=dict(width=0)),
                         xaxis=xr(n), yaxis=yr(n), hoverinfo="skip"))


def curve(k, n, ages, dens):
    fig.add_trace(go.Scatter(x=dens, y=ages, mode="lines", xaxis=xr(k), yaxis=yr(n), hoverinfo="skip",
                             line=dict(color=C_CURVE, width=1.5, shape="spline", smoothing=0.6)))


def mean_line(n, val, x0, x1, color, width=1.3):
    shapes.append(dict(type="line", xref=f"{xr(n)} domain", yref=yr(n), x0=x0, x1=x1, y0=val, y1=val,
                       line=dict(color=color, width=width), layer="below"))


bars(3, bu_hi, bu_lo, ["P"] * len(bu_hi), 0.42)
mean_line(3, bu_mean, 0, 0.545, "#86cc86")
curve(19, 3, bu_c_age, bu_c_den)
bars(4, bl_hi, bl_lo, ["C"] * len(bl_hi), 0.36)
mean_line(4, bl_mean, 0.548, 1, "#86cc86")
curve(20, 4, bl_c_age, bl_c_den)
bars(8, e_hi, e_lo, e_kind, 0.34)
curve(21, 8, e_c_age, e_c_den)
bars(11, h_hi, h_lo, h_kind, 0.33)
mean_line(11, h_mean, 0, 1, "#7cc57c", 1.5)
curve(22, 11, h_c_age, h_c_den)
bars(14, k_hi, k_lo, k_kind, 0.33)
mean_line(14, k_mean, 0, 1, "#1e8a2a", 1.5)
curve(23, 14, k_c_age, k_c_den)
bars(17, n_hi, n_lo, n_kind, 0.3)
mean_line(17, n_mean, 0, 1, "#7cc57c", 1.5)
curve(24, 17, n_c_age, n_c_den)


# ---- REE ----
def ree_lines(n, rows, color, width=1.2):
    for row in rows:
        fig.add_trace(go.Scatter(x=ree, y=[10 ** v for v in row], mode="lines", line=dict(color=color, width=width),
                                 xaxis=xr(n), yaxis=yr(n), hoverinfo="skip"))


ree_lines(5, c_cam, C_CAM)
ree_lines(5, c_pre, C_PRE)
ree_lines(9, f_cam, C_CAM)
ree_lines(9, f_exc, C_EXC)
ree_lines(9, f_pre, C_PRE)
ree_lines(12, i_core[:2], C_CORE)
ree_lines(12, i_und, C_UND)
ree_lines(12, i_rim, C_RIM)
ree_lines(12, i_core[2:], C_CORE)
ree_lines(15, l_und, C_UND)
ree_lines(15, l_rim, C_RIM)
ree_lines(15, l_core, C_CORE)
ree_lines(18, o_core, C_CORE)
ree_lines(18, o_und, C_UND)
ree_lines(18, o_rim, C_RIM)
ree_lines(18, o_exc, C_EXC)


# ======================= TEXT =======================
def T(text, x, y, size=14, color=TXT, xanchor="center", angle=0, xref="paper", yref="paper"):
    if xref == "paper":
        x = x / W
    if yref == "paper":
        y = 1 - y / H
    anns.append(dict(text=text, x=x, y=y, xref=xref, yref=yref, showarrow=False, xanchor=xanchor, yanchor="middle",
                     textangle=angle, font=dict(size=size, color=color, family=FONT)))


# row boxes and titles
for (t, b) in ((7, 311), (315, 618), (625, 927), (932, 1236), (1240, 1540)):
    shapes.append(dict(type="rect", xref="paper", yref="paper", x0=8 / W, x1=1150 / W, y0=1 - b / H, y1=1 - t / H,
                       line=dict(color=FRAME, width=2), layer="above"))
titles = [("(a-c) Zircons from 18BK01-1 \u00a0Gneissic granite", 21),
          ("(d-f) Zircons from 18BK43-1 Migmatite", 330),
          ("(g-l) Monazites from 18BK34-1 Granite sill", 642),
          ("(j-l) Monazites from 18BK39-1 Migmatite", 945),
          ("(m-o) Monazites from 18BK39-3 Granite sill", 1253)]
for txt, y in titles:
    T(f"<b>{txt}</b>", 582, y, size=19)

# panel letters
for s, x, y in (("a", 88, 50), ("d", 88, 362), ("g", 89, 674), ("j", 89, 982), ("m", 90, 1285),
                ("b", 420, 41), ("e", 420, 352), ("h", 422, 662), ("k", 422, 968), ("n", 420, 1273),
                ("c", 827, 42), ("f", 827, 352), ("i", 824, 660), ("l", 824, 968), ("o", 824, 1273)):
    T(s, x, y, size=17)

# axis titles
pb76 = "<sup>207</sup>Pb/<sup>206</sup>Pb"
u86 = "<sup>238</sup>U/<sup>206</sup>Pb"
for (yc, xt_y) in ((140, 305), (470, 614), (775, 924), (1083, 1232), (1388, 1535)):
    T(pb76, 29, yc, size=16, angle=-90)
    T(u86, 222, xt_y, size=15)
for yc in (147, 456, 762, 1070, 1375):
    T("Age (Ma)", 427, yc, size=16, angle=-90)
T("Zircon/CI-chondrite", 825, 157, size=16, angle=-90)
T("Zircon/CI-chondrite", 825, 467, size=16, angle=-90)
for yc in (777, 1085, 1390):
    T("Monazite/CI-chondrite", 825, yc, size=16, angle=-90)

# panel a texts
T("Upper intercept age = 2155 ± 19 Ma", 245, 50)
T("MSWD = 1.5, n = 35", 245, 67)
T("Low intercept age = 448 ± 7 Ma", 188, 257)
T("MSWD = 1.5, n = 35", 188, 273)
for s, x, y, ang in (("2600", 0.87, 0.160, -22), ("1800", 2.0, 0.102, -22), ("1000", 6.99, 0.084, -62),
                     ("400", 16.85, 0.061, -40)):
    T(s, x, y, size=14, angle=ang, xref="x", yref="y")
for s, x, y in (("480", 13.01, 0.0557), ("460", 13.57, 0.0548), ("440", 14.12, 0.0546)):
    T(s, x, y, size=13, angle=-90, xref="x2", yref="y2")

# panel d texts
for s, x, y, ang in (("3000", 3.63, 0.224, 0), ("2600", 3.94, 0.176, 0), ("2200", 4.41, 0.142, 0),
                     ("1800", 4.88, 0.116, 0), ("1400", 5.81, 0.093, -12), ("1000", 4.25, 0.061, -28),
                     ("600", 9.07, 0.050, -30)):
    T(s, x, y, size=14, angle=ang, xref="x6", yref="y6")

# monazite concordia labels
for n in (10, 13, 16):
    for s, x, y in (("550", 11.14, 0.0553), ("530", 11.59, 0.0553), ("510", 12.05, 0.0549), ("490", 12.58, 0.0543),
                    ("470", 13.14, 0.0528), ("450", 13.76, 0.0533), ("430", 14.47, 0.0535)):
        T(s, x, y, size=14, angle=-70, xref=xr(n), yref=yr(n))

# weighted-mean texts
p68 = "<sup>206</sup>Pb/<sup>238</sup>U"
T("Weighted mean <sup>207</sup>Pb/<sup>206</sup>Pb age = 2143 ± 24 Ma", 642, 48)
T("MSWD = 1.6, n = 15", 640, 67)
T(f"Weighted mean {p68} age = 452 ± 4 Ma", 632, 277)
T("MSWD = 3.0, n = 12", 633, 293)
T(f"Weighted mean {p68} age = 822 ± 7 Ma", 636, 361)
T("MSWD = 4.8, n = 17", 633, 379)
T(f"Weighted mean {p68} age = 471 ± 18 Ma", 638, 535)
T("MSWD = 21, n = 6", 635, 553)
T(f"All ages: weighted mean {p68} age = 457 ± 2 Ma", 636, 707, size=12.5)
T("MSWD = 4.1, n = 34", 634, 725, size=12.5)
T(f"Rims: weighted mean {p68} age = 451 ± 3 Ma", 636, 893, size=12.5, color=C_RIM)
T("MSWD = 1.6, n = 9", 634, 911, size=12.5, color=C_RIM)
T(f"All ages: weighted mean {p68} age = 465 ± 4 Ma", 636, 979, size=12.5)
T("MSWD = 7.9, n = 33", 634, 997, size=12.5)
T(f"Rims: Weighted mean {p68} age = 451 ± 5 Ma", 640, 1200, size=12.5, color=C_RIM)
T("MSWD = 1.4, n = 8", 636, 1218, size=12.5, color=C_RIM)
T(f"All ages: weighted mean {p68} age = 465 ± 2 Ma", 636, 1293, size=12.5)
T("MSWD = 1.6, n = 27", 634, 1312, size=12.5)

# legend
T("* Analytical spots:", 11, 1552, size=13, xanchor="left")
legend_items = [(147, 1552, C_CORE, "Monazite cores"), (291, 1552, C_RIM, "Monazite rims"),
                (413, 1552, C_UND, "Undifferentiated monazites"), (590, 1552, C_PRE, "Precambrian zircons"),
                (737, 1552, C_CAM, "Cambrian zircons"),
                (147, 1571, C_EXC, "Excluded analytical spots from weighted mean calculation"),
                (560, 1571, "#1a1a1a", "Disconcordant results (only shown in concordia diagrams)")]
for x, y, col, lab in legend_items:
    shapes.append(dict(type="rect", xref="paper", yref="paper", x0=x / W, x1=(x + 17) / W, y0=1 - (y + 7) / H,
                       y1=1 - (y - 7) / H, fillcolor=col, line=dict(color="#333333", width=1), layer="above"))
    T(lab, x + 22, y, size=12.5, xanchor="left")

L["shapes"] = shapes
L["annotations"] = anns
fig.update_layout(L)
fig.write_html("out.html", config={"displayModeBar": False},
               post_script="document.body.style.margin='0';")
